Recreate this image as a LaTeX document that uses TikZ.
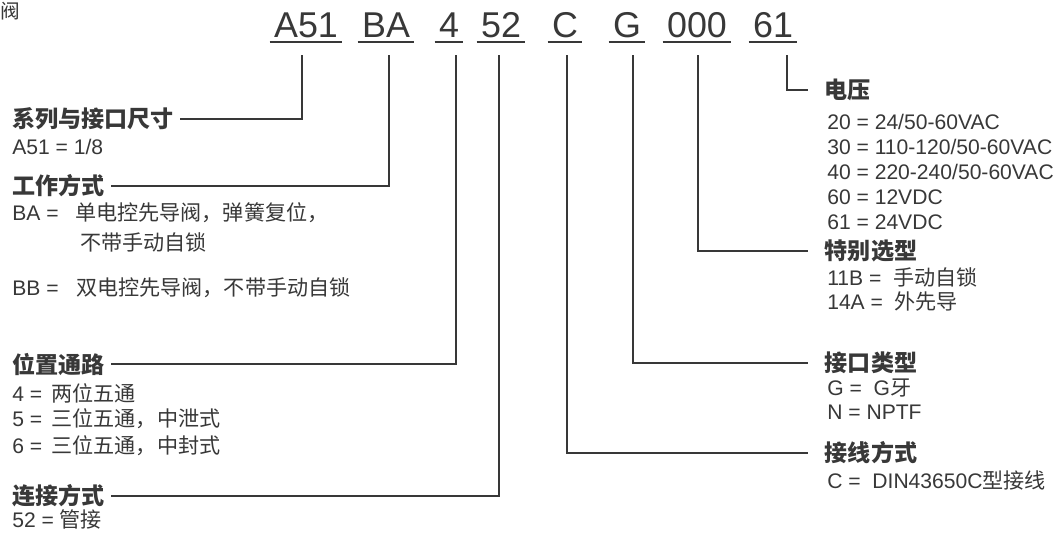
\documentclass[tikz,border=0pt]{standalone}
\usepackage{fontspec}
\setmainfont{Liberation Sans}
\newfontfamily\cjk{Noto Sans CJK SC}
\usepackage{tikz}
\usepackage{xcolor}
\definecolor{ink}{HTML}{383838}
\newcommand{\zh}[1]{{\cjk #1}}

\tikzset{
  code/.style={anchor=base, inner xsep=3pt, inner ysep=3.5pt, text depth=0pt, font=\fontsize{25.5}{30}\selectfont},
  uline/.style={draw=ink, line width=1.7pt},
  lbl/.style={anchor=west, inner sep=0pt, outer sep=5pt, font=\fontsize{16.4}{20}\selectfont\bfseries},
  rlbl/.style={lbl, outer xsep=12pt},
  item/.style={anchor=west, inner sep=0pt, font=\fontsize{15}{18}\selectfont},
  conn/.style={draw=ink, line width=1.4pt},
}

\begin{document}
\begin{tikzpicture}[x=0.025cm, y=-0.025cm, every node/.style={text=ink}]
	\fill[white] (0,0) rectangle (1058,533);
	\useasboundingbox (0,0) rectangle (1058,533);

	\node[anchor=west, inner sep=0pt, font=\fontsize{14}{16}\selectfont] (valve) at (0,11) {\zh{阀}};

	% order code
	\draw (306,37) node[code] (a51) {A51}
		(386,37) node[code] (ba) {BA}
		(449,37) node[code] (pos) {4}
		(501,37) node[code] (con) {52}
		(565,37) node[code] (wir) {C}
		(627,37) node[code] (port) {G}
		(697,37) node[code] (opt) {000}
		(773,37) node[code] (volt) {61};

	\draw[uline] (a51.south west) -- (a51.south east);
	\draw[uline] (ba.south west) -- (ba.south east);
	\draw[uline] (pos.south west) -- (pos.south east);
	\draw[uline] (con.south west) -- (con.south east);
	\draw[uline] (wir.south west) -- (wir.south east);
	\draw[uline] (port.south west) -- (port.south east);
	\draw[uline] (opt.south west) -- (opt.south east);
	\draw[uline] (volt.south west) -- (volt.south east);

	\coordinate (a51-top) at (302,55);
	\coordinate (ba-top) at (389,55);
	\coordinate (pos-top) at (456,55);
	\coordinate (con-top) at (499,55);
	\coordinate (wir-top) at (567,55);
	\coordinate (port-top) at (633,55);
	\coordinate (opt-top) at (698,55);
	\coordinate (volt-top) at (787,55);

	% left side
	\draw (5,119) node[lbl] (lsys) {\zh{系列与接口尺寸}}
		(12,147) node[item] (sys1) {A51 = 1/8}
		(5,186) node[lbl] (lmode) {\zh{工作方式}}
		(12,213) node[item] (mode1) {\makebox[44.8pt][l]{BA =}\zh{单电控先导阀，弹簧复位，}}
		(80,242) node[item] (mode2) {\zh{不带手动自锁}}
		(12,288) node[item] (mode3) {\makebox[45.5pt][l]{BB =}\zh{双电控先导阀，不带手动自锁}}
		(5,364) node[lbl] (lpos) {\zh{位置通路}}
		(12,393) node[item] (pos1) {4 =\ \,\zh{两位五通}}
		(12,419) node[item] (pos2) {5 =\ \,\zh{三位五通，中泄式}}
		(12,446) node[item] (pos3) {6 =\ \,\zh{三位五通，中封式}}
		(5,496) node[lbl] (lcon) {\zh{连接方式}}
		(12,519) node[item] (con1) {52 = \zh{管接}};

	% right side
	\draw (808,90) node[rlbl] (lvolt) {\zh{电压}}
		(827,122) node[item] (volt1) {20 = 24/50-60VAC}
		(827,147) node[item] (volt2) {30 = 110-120/50-60VAC}
		(827,172) node[item] (volt3) {40 = 220-240/50-60VAC}
		(827,197) node[item] (volt4) {60 = 12VDC}
		(827,222) node[item] (volt5) {61 = 24VDC}
		(808,251) node[rlbl] (lopt) {\zh{特别选型}}
		(827,277) node[item] (opt1) {11B =\ \ \zh{手动自锁}}
		(827,302) node[item] (opt2) {14A =\ \ \zh{外先导}}
		(808,363) node[rlbl] (lport) {\zh{接口类型}}
		(827,388) node[item] (port1) {G =\ \ G\zh{牙}}
		(827,412) node[item] (port2) {N = NPTF}
		(808,453) node[rlbl] (lwir) {\zh{接线方式}}
		(827,480) node[item] (wir1) {C =\ \ DIN43650C\zh{型接线}};

	\draw[conn] (a51-top) |- (lsys);
	\draw[conn] (ba-top) |- (lmode);
	\draw[conn] (pos-top) |- (lpos);
	\draw[conn] (con-top) |- (lcon);
	\draw[conn] (wir-top) |- (lwir);
	\draw[conn] (port-top) |- (lport);
	\draw[conn] (opt-top) |- (lopt);
	\draw[conn] (volt-top) |- (lvolt);
\end{tikzpicture}
\end{document}
